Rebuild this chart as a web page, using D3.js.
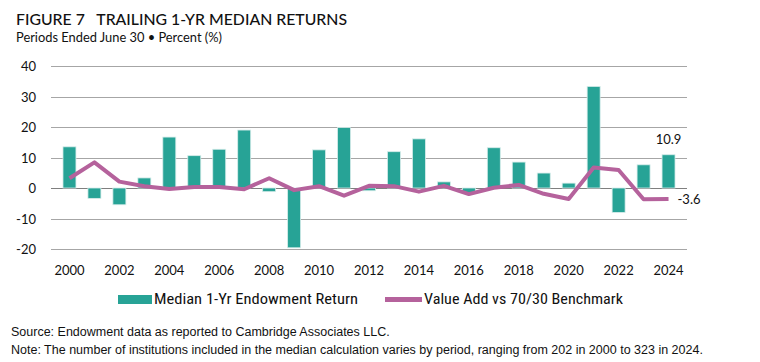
<!DOCTYPE html>
<html>
<head>
<meta charset="utf-8">
<script src="https://cdn.jsdelivr.net/npm/d3@7"></script>
<style>
  body { margin: 0; background: #fff; }
  svg { display: block; }
</style>
</head>
<body>
<div></div>
<script>
var years = ["2000","2001","2002","2003","2004","2005","2006","2007","2008","2009","2010","2011","2012",
             "2013","2014","2015","2016","2017","2018","2019","2020","2021","2022","2023","2024"];
var endowReturn = [13.5,-3.4,-5.5,3.3,16.7,10.6,12.7,19.0,-1.2,-19.6,12.5,19.8,-0.9,
                   11.9,16.1,2.0,-1.5,13.2,8.5,4.9,1.6,33.3,-8.0,7.6,10.9];
var valueAdd = [3.2,8.4,2.1,0.6,-0.3,0.3,0.3,-0.4,3.2,-0.7,0.6,-2.5,0.7,
                0.6,-1.2,0.7,-2.0,0.1,1.0,-1.9,-3.6,6.7,5.9,-3.7,-3.6];
var yTicks = [-20,-10,0,10,20,30,40];
var xLabels = ["2000","2002","2004","2006","2008","2010","2012","2014","2016","2018","2020","2022","2024"];

var teal = "#27a396", purple = "#b5629c";

var svg = d3.select("div").append("svg").attr("width", 760).attr("height", 362);

svg.append("text").attr("x", 16).attr("y", 25)
  .attr("textLength", 331).attr("lengthAdjust", "spacingAndGlyphs")
  .style("font-family", "Lato, sans-serif").style("font-size", "16px").style("font-weight", "500")
  .style("fill", "#111")
  .text("FIGURE 7\u2002\u00a0TRAILING 1-YR MEDIAN RETURNS");
svg.append("text").attr("x", 16).attr("y", 42)
  .attr("textLength", 206).attr("lengthAdjust", "spacingAndGlyphs")
  .style("font-family", "Lato, sans-serif").style("font-size", "12.5px").style("fill", "#111")
  .text("Periods Ended June 30 \u2022 Percent (%)");

var x = d3.scaleBand().domain(years).range([51, 687]).padding(0.48);
var y = d3.scaleLinear().domain([-20, 40]).range([249, 66]);

// gridlines
svg.append("g").selectAll("line").data(yTicks).enter().append("line")
  .attr("x1", 51).attr("x2", 687)
  .attr("y1", function(d){ return Math.round(y(d)) + 0.5; })
  .attr("y2", function(d){ return Math.round(y(d)) + 0.5; })
  .attr("stroke", function(d){ return d === 0 ? "#7f7f7f" : "#a6a6a6"; })
  .attr("stroke-width", 1);

// y labels
svg.append("g").selectAll("text").data(yTicks).enter().append("text")
  .attr("x", 36).attr("y", function(d){ return y(d) + 5; })
  .attr("text-anchor", "end")
  .style("font-family", "Lato, sans-serif").style("font-size", "13px").style("fill", "#111")
  .text(function(d){ return d; });

// x labels
svg.append("g").selectAll("text").data(xLabels).enter().append("text")
  .attr("x", function(d){ return x(d) + x.bandwidth() / 2; }).attr("y", 275)
  .attr("text-anchor", "middle")
  .style("font-family", "Lato, sans-serif").style("font-size", "13px").style("fill", "#111")
  .text(function(d){ return d; });

// bars
svg.append("g").selectAll("rect").data(endowReturn).enter().append("rect")
  .attr("x", function(d, i){ return x(years[i]); })
  .attr("width", x.bandwidth())
  .attr("y", function(d){ return y(Math.max(0, d)); })
  .attr("height", function(d){ return Math.abs(y(d) - y(0)); })
  .attr("fill", teal)
  .attr("stroke", "#d6ecea").attr("stroke-width", 0.8);

// line
var line = d3.line()
  .x(function(d, i){ return x(years[i]) + x.bandwidth() / 2; })
  .y(function(d){ return y(d); });
svg.append("path").datum(valueAdd)
  .attr("d", line)
  .attr("fill", "none").attr("stroke", purple).attr("stroke-width", 4)
  .attr("stroke-linejoin", "round");

// end labels
var last = years.length - 1;
svg.append("text")
  .attr("x", x(years[last]) + x.bandwidth() / 2).attr("y", y(endowReturn[last]) - 11)
  .attr("text-anchor", "middle")
  .style("font-family", "Lato, sans-serif").style("font-size", "13px").style("fill", "#111")
  .text(endowReturn[last]);
svg.append("text")
  .attr("x", x(years[last]) + x.bandwidth() / 2 + 9).attr("y", y(valueAdd[last]) + 5)
  .style("font-family", "Lato, sans-serif").style("font-size", "13px").style("fill", "#111")
  .text(valueAdd[last]);

// legend
var legend = [
  { label: "Median 1-Yr Endowment Return", color: teal, x: 118, w: 34, h: 9, tw: 204 },
  { label: "Value Add vs 70/30 Benchmark", color: purple, x: 385, w: 37, h: 5, tw: 199 }
];
var lg = svg.append("g").selectAll("g").data(legend).enter().append("g");
lg.append("rect")
  .attr("x", function(d){ return d.x; }).attr("y", function(d){ return 299.5 - d.h / 2; })
  .attr("width", function(d){ return d.w; }).attr("height", function(d){ return d.h; })
  .attr("fill", function(d){ return d.color; });
lg.append("text")
  .attr("x", function(d){ return d.x + d.w + 2; }).attr("y", 304)
  .attr("textLength", function(d){ return d.tw; }).attr("lengthAdjust", "spacingAndGlyphs")
  .style("font-family", "'Liberation Sans Narrow', 'Roboto Condensed', sans-serif").style("font-size", "15px").style("fill", "#111")
  .text(function(d){ return d.label; });

// notes
svg.append("text").attr("x", 11).attr("y", 336)
  .style("font-family", "'Liberation Sans Narrow', sans-serif").style("font-size", "12.5px").style("fill", "#111")
  .text("Source: Endowment data as reported to Cambridge Associates LLC.");
svg.append("text").attr("x", 11).attr("y", 354)
  .style("font-family", "'Liberation Sans Narrow', sans-serif").style("font-size", "12.5px").style("fill", "#111")
  .text("Note: The number of institutions included in the median calculation varies by period, ranging from 202 in 2000 to 323 in 2024.");
</script>
</body>
</html>
